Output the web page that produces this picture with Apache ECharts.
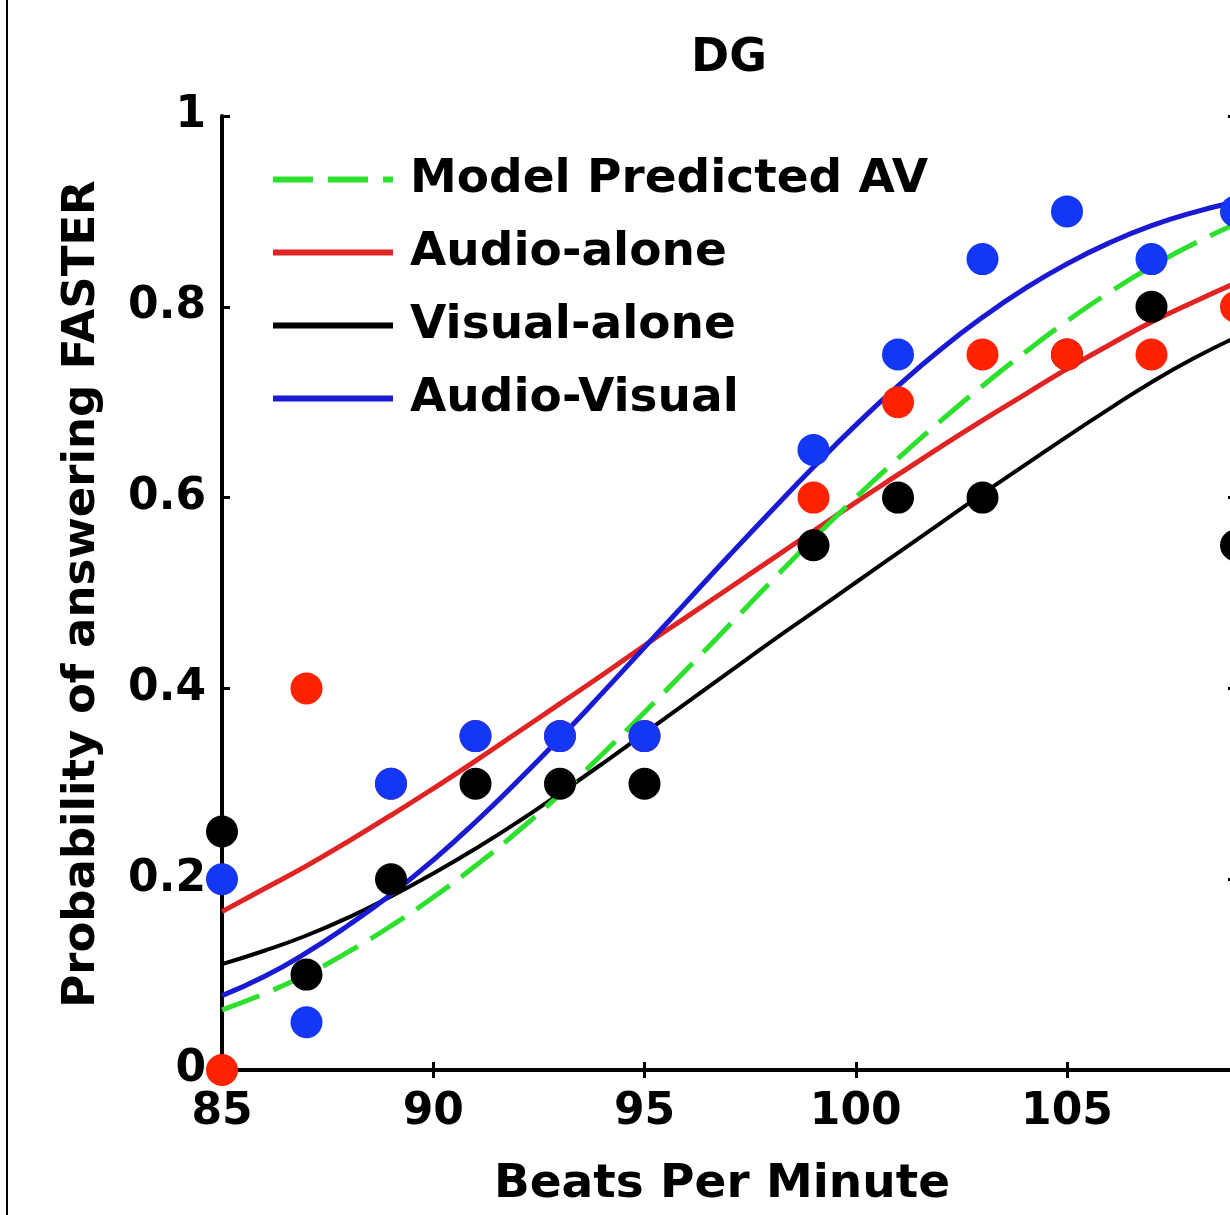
<!DOCTYPE html>
<html>
<head>
<meta charset="utf-8">
<script src="https://cdn.jsdelivr.net/npm/echarts@6/dist/echarts.min.js"></script>
<style>
  html, body { margin: 0; padding: 0; background: #fff; }
  #chart { width: 1230px; height: 1215px; }
</style>
</head>
<body>
<div id="chart"></div>
<script>
// beats per minute sampled along the fitted curves
const bpm = [85, 86, 87, 88, 89, 90, 91, 92, 93, 94, 95, 96, 97, 98, 99, 100, 101, 102, 103, 104, 105, 106, 107, 108, 109];

// fitted curves
const modelFit  = [0.063, 0.08, 0.10, 0.124, 0.151, 0.181, 0.214, 0.25, 0.289, 0.331, 0.375, 0.42, 0.466, 0.512, 0.557, 0.60, 0.641, 0.68, 0.717, 0.752, 0.785, 0.815, 0.842, 0.866, 0.887];
const audioFit  = [0.166, 0.19, 0.214, 0.24, 0.267, 0.295, 0.324, 0.354, 0.384, 0.414, 0.445, 0.475, 0.505, 0.535, 0.565, 0.595, 0.624, 0.653, 0.681, 0.708, 0.735, 0.76, 0.784, 0.805, 0.825];
const visualFit = [0.111, 0.125, 0.141, 0.16, 0.182, 0.206, 0.232, 0.26, 0.29, 0.321, 0.353, 0.385, 0.417, 0.449, 0.48, 0.511, 0.542, 0.573, 0.604, 0.634, 0.664, 0.693, 0.721, 0.746, 0.768];
const avFit     = [0.078, 0.098, 0.123, 0.152, 0.184, 0.22, 0.26, 0.303, 0.348, 0.395, 0.443, 0.491, 0.539, 0.586, 0.632, 0.676, 0.717, 0.755, 0.789, 0.819, 0.845, 0.867, 0.885, 0.899, 0.91];

// observed proportions
const obsBpm    = [85, 87, 89, 91, 93, 95, 99, 101, 103, 105, 107, 109];
const audioObs  = [0, 0.4, 0.3, 0.35, 0.35, 0.35, 0.6, 0.7, 0.75, 0.75, 0.75, 0.8];
const visualObs = [0.25, 0.1, 0.2, 0.3, 0.3, 0.3, 0.55, 0.6, 0.6, 0.75, 0.8, 0.55];
const avObs     = [0.2, 0.05, 0.3, 0.35, 0.35, 0.35, 0.65, 0.75, 0.85, 0.9, 0.85, 0.9];

const yTicks = [0, 0.2, 0.4, 0.6, 0.8, 1];

const FONT = 'DejaVu Sans';
const pair = (xs, ys) => xs.map((x, i) => [x, ys[i]]);

let myChart = echarts.init(document.getElementById('chart'));

let axisLine = { show: true, lineStyle: { color: '#000', width: 4 } };
let tick = { show: true, inside: true, length: 8, lineStyle: { color: '#000', width: 3 } };

function fitLine(name, data, color, width, type) {
  return {
    name: name,
    type: 'line',
    data: pair(bpm, data),
    smooth: true,
    symbol: 'none',
    lineStyle: { color: color, width: width, type: type || 'solid' },
    itemStyle: { color: color },
    z: 2
  };
}

function dots(data, color, z) {
  return {
    type: 'scatter',
    data: pair(obsBpm, data),
    symbolSize: 32,
    itemStyle: { color: color, opacity: 1 },
    clip: false,
    z: z
  };
}

let option = {
  animation: false,
  backgroundColor: '#fff',
  grid: { left: 222, top: 116, width: 1014, height: 954, containLabel: false, outerBoundsMode: 'none' },
  xAxis: [{
    type: 'value', min: 85, max: 109, interval: 5, position: 'bottom',
    axisLine: axisLine, axisTick: tick, splitLine: { show: false },
    axisLabel: { color: '#000', fontSize: 44, fontWeight: 'bold', fontFamily: FONT, margin: 21, showMaxLabel: false }
  }, {
    type: 'value', min: 85, max: 109, interval: 5, position: 'top',
    axisLine: axisLine, axisTick: tick, splitLine: { show: false },
    axisLabel: { show: false }
  }],
  yAxis: [{
    type: 'value', min: 0, max: 1, interval: 0.2, position: 'left',
    axisLine: axisLine, axisTick: tick, splitLine: { show: false },
    axisLabel: {
      color: '#000', fontSize: 44, fontWeight: 'bold', fontFamily: FONT, margin: 16,
      formatter: v => yTicks.includes(+v.toFixed(1)) ? String(+v.toFixed(1)) : ''
    }
  }, {
    type: 'value', min: 0, max: 1, interval: 0.2, position: 'right',
    axisLine: axisLine, axisTick: tick, splitLine: { show: false },
    axisLabel: { show: false }
  }],
  legend: {
    orient: 'vertical', left: 270, top: 149, padding: 0,
    itemWidth: 120, itemHeight: 4, itemGap: 12,
    lineStyle: { width: 6 },
    textStyle: { color: '#000', fontSize: 47, fontWeight: 'bold', fontFamily: FONT, lineHeight: 61, padding: [0, 0, 0, 12] },
    data: ['Model Predicted AV', 'Audio-alone', 'Visual-alone', 'Audio-Visual']
  },
  graphic: [
    { type: 'line', shape: { x1: 7, y1: 0, x2: 7, y2: 1215 }, style: { stroke: '#000', lineWidth: 2 } },
    { type: 'text', x: 729, y: 59, style: { text: 'DG', fill: '#000', font: 'bold 46px "DejaVu Sans"', textAlign: 'center', textVerticalAlign: 'middle' } },
    { type: 'text', x: 722, y: 1185, style: { text: 'Beats Per Minute', fill: '#000', font: 'bold 47px "DejaVu Sans"', textAlign: 'center', textVerticalAlign: 'middle' } },
    { type: 'text', x: 82, y: 594, rotation: Math.PI / 2, style: { text: 'Probability of answering FASTER', fill: '#000', font: 'bold 45px "DejaVu Sans"', textAlign: 'center', textVerticalAlign: 'middle' } }
  ],
  series: [
    fitLine('Audio-alone', audioFit, '#e02424', 5),
    fitLine('Visual-alone', visualFit, '#000000', 4),
    fitLine('Audio-Visual', avFit, '#1a1ad2', 5),
    fitLine('Model Predicted AV', modelFit, '#2ee02e', 5, [40, 15]),
    dots(visualObs, '#000000', 3),
    dots(audioObs, '#ff2200', 4),
    dots(avObs, '#1436f5', 5)
  ]
};

myChart.setOption(option, true);

window.addEventListener('resize', () => {
  myChart.resize();
});
</script>
</body>
</html>
